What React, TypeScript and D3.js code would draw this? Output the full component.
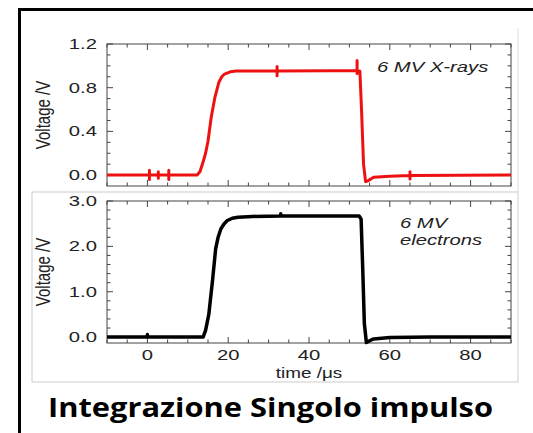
import React from 'react';
import * as d3 from 'd3';

// X-ray pulse (red), time in microseconds, voltage in volts
const xrTime = [-10, 0.5, 0.5, 0.5, 0.5, 2.7, 2.7, 2.7, 2.7, 5.3, 5.3, 5.3, 5.3, 12.3, 13.0, 13.7, 14.4, 15.0, 15.8, 16.7, 17.7, 18.4, 19.1, 20.5, 22.0, 32.1, 32.1, 32.1, 32.1, 45.0, 51.9, 51.9, 51.9, 51.9, 52.6, 53.0, 53.5, 54.0, 54.5, 56.0, 60.0, 65.0, 65.0, 65.0, 65.0, 90.0];
const xrVolt = [0, 0, 0.045, -0.04, 0, 0, 0.03, -0.03, 0, 0, 0.045, -0.04, 0, 0, 0.03, 0.11, 0.2, 0.31, 0.53, 0.71, 0.85, 0.9, 0.925, 0.945, 0.952, 0.953, 0.995, 0.91, 0.953, 0.955, 0.955, 1.05, 0.93, 0.955, 0.95, 0.6, 0.1, -0.06, -0.055, -0.02, -0.01, -0.005, 0.03, -0.035, -0.005, 0];

// electron pulse (black)
const elTime = [-10, 0, 0, 0, 13.8, 14.4, 15.2, 16.1, 16.9, 17.5, 18.2, 19.0, 19.8, 21.0, 22.4, 26.0, 33.0, 33.0, 33.0, 45.0, 52.4, 52.9, 53.3, 53.7, 54.2, 55.0, 56.0, 60.0, 70.0, 90.0];
const elVolt = [0, 0, 0.06, 0, 0, 0.15, 0.5, 1.23, 1.95, 2.2, 2.39, 2.5, 2.57, 2.62, 2.64, 2.66, 2.67, 2.72, 2.67, 2.67, 2.67, 2.6, 1.5, 0.3, -0.12, -0.08, -0.04, -0.01, 0, 0];

const timeTicks = [0, 20, 40, 60, 80];
const xrTicks = [0.0, 0.4, 0.8, 1.2];
const elTicks = [0.0, 1.0, 2.0, 3.0];

const FONT = 'Liberation Sans, Arial, sans-serif';
const SX = 1.35;

const xScale = d3.scaleLinear().domain([-10, 90]).range([107, 511]);

function Panel({ time, volt, top, bottom, domain, ticks, minorStep, color, width, showX }) {
  const y = d3.scaleLinear().domain(domain).range([bottom, top]);
  const pts = time.map((t, i) => [t, volt[i]]);
  const path = d3.line().x(d => xScale(d[0])).y(d => y(d[1]))(pts);
  const [x0, x1] = xScale.range();
  const minorX = d3.range(-10, 90.01, 5);
  const minorY = d3.range(0, domain[1] + 1e-6, minorStep);
  const fmt = d3.format('.1f');
  return (
    <g>
      <rect x={x0} y={top} width={x1 - x0} height={bottom - top} fill="none" stroke="#444" strokeWidth={1} />
      {minorX.map(t => {
        const len = t % 20 === 0 ? 6 : 3.5;
        return (
          <g key={'x' + t} stroke="#444">
            <line x1={xScale(t)} x2={xScale(t)} y1={bottom} y2={bottom - len} />
            <line x1={xScale(t)} x2={xScale(t)} y1={top} y2={top + len} />
          </g>
        );
      })}
      {minorY.map(v => {
        const major = ticks.some(t => Math.abs(t - v) < 1e-6);
        const len = major ? 6 : 3.5;
        return (
          <g key={'y' + v} stroke="#444">
            <line x1={x0} x2={x0 + len} y1={y(v)} y2={y(v)} />
            <line x1={x1} x2={x1 - len} y1={y(v)} y2={y(v)} />
          </g>
        );
      })}
      {ticks.map(v => (
        <text key={'l' + v} transform={`translate(97,${y(v) + 5}) scale(${SX},1)`} textAnchor="end" fontFamily={FONT} fontSize={15} fill="#222">{fmt(v)}</text>
      ))}
      <text transform={`translate(50,${(top + bottom) / 2}) scale(${SX},1) rotate(-90)`} textAnchor="middle" fontFamily={FONT} fontSize={15} fill="#222">Voltage /V</text>
      <path d={path} fill="none" stroke={color} strokeWidth={width} strokeLinejoin="round" />
      {showX && timeTicks.map(t => (
        <text key={'t' + t} transform={`translate(${xScale(t)},${bottom + 17}) scale(${SX},1)`} textAnchor="middle" fontFamily={FONT} fontSize={15} fill="#222">{t}</text>
      ))}
      {showX && (
        <text transform={`translate(${xScale(40)},${bottom + 35}) scale(${SX},1)`} textAnchor="middle" fontFamily={FONT} fontSize={14} fill="#222">time /μs</text>
      )}
    </g>
  );
}

export default function App() {
  return (
    <svg width={533} height={433} style={{ position: 'absolute', left: 0, top: 0, background: '#fff' }}>
      <rect x={19.5} y={9.5} width={560} height={460} fill="none" stroke="#000" strokeWidth={3} />
      <line x1={518} x2={518} y1={28} y2={192} stroke="#ddd" />
      <rect x={32} y={192} width={486} height={190} fill="none" stroke="#ccc" />
      <Panel time={xrTime} volt={xrVolt} top={44} bottom={186} domain={[-0.1, 1.2]} ticks={xrTicks} minorStep={0.1} color="#ee1111" width={3} showX={false} />
      <Panel time={elTime} volt={elVolt} top={201} bottom={343} domain={[-0.13, 3.0]} ticks={elTicks} minorStep={0.2} color="#000" width={3.5} showX={true} />
      <text transform={`translate(377,72) scale(${SX},1)`} fontFamily={FONT} fontStyle="italic" fontSize={15} fill="#222">6 MV X-rays</text>
      <text transform={`translate(400,228) scale(${SX},1)`} fontFamily={FONT} fontStyle="italic" fontSize={15} fill="#222">6 MV</text>
      <text transform={`translate(400,245) scale(${SX},1)`} fontFamily={FONT} fontStyle="italic" fontSize={15} fill="#222">electrons</text>
      <text x={48} y={417} fontFamily="Open Sans, sans-serif" fontWeight="bold" fontSize={27} textLength={445} lengthAdjust="spacingAndGlyphs" fill="#000">Integrazione Singolo impulso</text>
    </svg>
  );
}
